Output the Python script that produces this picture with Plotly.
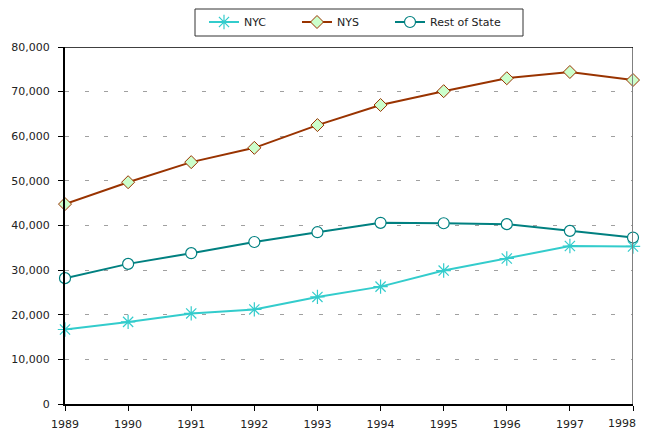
import plotly.graph_objects as go

years = [1989, 1990, 1991, 1992, 1993, 1994, 1995, 1996, 1997, 1998]
x_tick_labels = ["1989", "1990", "1991", "1992", "1993", "1994", "1995", "1996", "1997", "1998"]
nyc = [16700, 18400, 20300, 21200, 24000, 26300, 29900, 32600, 35400, 35300]
nys = [44800, 49700, 54200, 57400, 62500, 67000, 70100, 73000, 74400, 72600]
rest_of_state = [28200, 31400, 33800, 36300, 38500, 40600, 40500, 40300, 38800, 37300]
y_ticks = [0, 10000, 20000, 30000, 40000, 50000, 60000, 70000, 80000]

font = "DejaVu Sans"

# page body margin offsets the figure by 8px; plot area in reference pixels: x 65..633, y 47..404
PAGE_OFF = 8
PL, PR, PT, PB = 65, 633, 47, 404
W, H = 649, 432
PW, PH = PR - PL, PB - PT

fig = go.Figure()
fig.add_trace(go.Scatter(
    x=years, y=nyc, name="NYC", mode="lines+markers", cliponaxis=False,
    line=dict(color="#33CCCC", width=2),
    marker=dict(symbol="asterisk-open", size=12, color="#33CCCC", line=dict(color="#33CCCC", width=1.2)),
))
fig.add_trace(go.Scatter(
    x=years, y=nys, name="NYS", mode="lines+markers", cliponaxis=False,
    line=dict(color="#993300", width=2),
    marker=dict(symbol="diamond", size=10, color="#CCFFCC", line=dict(color="#993300", width=1)),
))
fig.add_trace(go.Scatter(
    x=years, y=rest_of_state, name="Rest of State", mode="lines+markers", cliponaxis=False,
    line=dict(color="#008080", width=2),
    marker=dict(symbol="circle", size=11, color="white", line=dict(color="#008080", width=1.2)),
))
# spacer entry so the legend box does not clip the last label
fig.add_trace(go.Scatter(
    x=[None], y=[None], name=" ", mode="lines", line=dict(width=0, color="rgba(0,0,0,0)"),
    hoverinfo="skip",
))

# right border of plot area (grey)
fig.add_shape(type="line", xref="x", yref="paper", x0=1998, x1=1998, y0=0, y1=1,
              line=dict(color="#808080", width=2), layer="above")
# top border of plot area (black)
fig.add_shape(type="line", xref="paper", yref="y", x0=0, x1=1, y0=80000, y1=80000,
              line=dict(color="black", width=1.5), layer="above")
# legend frame
fig.add_shape(type="rect", xref="paper", yref="paper",
              x0=(195 - PL) / PW, x1=(523 - PL) / PW,
              y0=(PB - 36) / PH, y1=(PB - 9) / PH,
              line=dict(color="#333333", width=1), fillcolor="rgba(0,0,0,0)")

# last x tick label kept inside the visible window
fig.add_annotation(
    x=years[-1], xref="x", y=0, yref="paper", text=x_tick_labels[-1],
    showarrow=False, xanchor="right", yanchor="top", xshift=5, yshift=-11,
    font=dict(family=font, size=11, color="#222222"),
)

fig.update_layout(
    width=W, height=H,
    margin=dict(l=PL - PAGE_OFF, r=W - PR + PAGE_OFF, t=PT - PAGE_OFF, b=H - PB + PAGE_OFF,
                autoexpand=False),
    paper_bgcolor="white", plot_bgcolor="white",
    font=dict(family=font, size=11, color="#222222"),
    showlegend=True,
    legend=dict(
        orientation="h", xref="paper", yref="paper",
        x=(204 - PL) / PW, xanchor="left", y=(PB - 22) / PH, yanchor="middle",
        borderwidth=0, bgcolor="rgba(0,0,0,0)",
        font=dict(family=font, size=11, color="#222222"),
        entrywidth=48, itemwidth=30,
    ),
    xaxis=dict(
        range=[1989, 1998], tickmode="array", tickvals=years,
        ticktext=x_tick_labels[:-1] + [""],
        showline=True, linecolor="black", linewidth=2, mirror=False,
        ticks="outside", ticklen=5, tickcolor="black", showgrid=False, zeroline=False,
        ticklabelstandoff=4, automargin=False,
    ),
    yaxis=dict(
        range=[0, 80000], tickmode="array", tickvals=y_ticks,
        ticktext=[f"{v:,}" for v in y_ticks],
        showline=True, linecolor="black", linewidth=2,
        ticks="outside", ticklen=5, tickcolor="black", automargin=False,
        ticklabelstandoff=6,
        showgrid=True, gridcolor="#A0A0A0", griddash="4px,15.5px", gridwidth=1, zeroline=False,
    ),
)

fig.write_html("out.html")
